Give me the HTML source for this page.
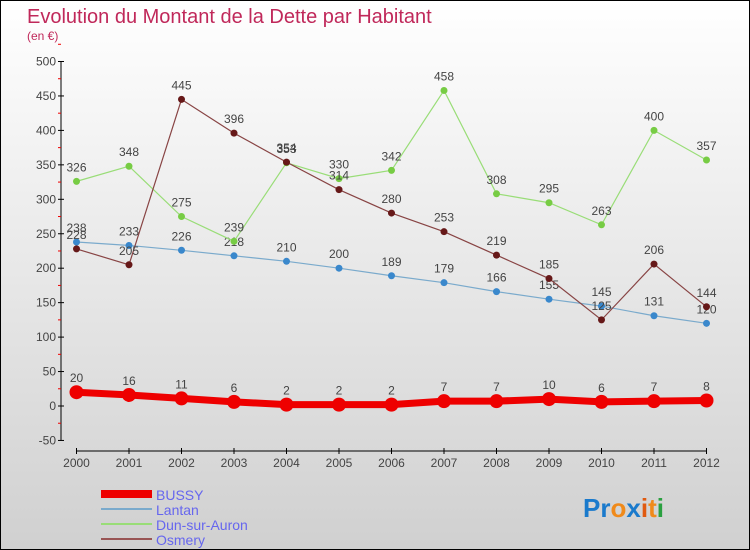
<!DOCTYPE html>
<html><head><meta charset="utf-8"><style>
body{margin:0}
#c{width:750px;height:550px;position:relative;box-sizing:border-box;border:1px solid #000;background:linear-gradient(#fff,#d0d0d0);font-family:"Liberation Sans",sans-serif;overflow:hidden}
</style></head><body>
<div id="c">
<svg id="s" width="750" height="550" xmlns="http://www.w3.org/2000/svg">
<text x="26" y="22" font-size="20" fill="#c0285a">Evolution du Montant de la Dette par Habitant</text>
<text x="26" y="39" font-size="12" fill="#c0285a">(en €)</text>
<g id="axes"></g><g id="series"></g>
<g>
<rect x="100" y="489" width="51" height="8" fill="#e00"/>
<text x="155" y="499" font-size="14" fill="#6666ee">BUSSY</text>
<rect x="100" y="507" width="51" height="2" fill="#7aaacc"/>
<text x="155" y="514" font-size="14" fill="#6666ee">Lantan</text>
<rect x="100" y="522" width="51" height="2" fill="#99dd77"/>
<text x="155" y="529" font-size="14" fill="#6666ee">Dun-sur-Auron</text>
<rect x="100" y="537" width="51" height="2" fill="#995555"/>
<text x="155" y="544" font-size="14" fill="#6666ee">Osmery</text>
</g>
<g font-size="26" font-weight="bold">
<text x="582" y="516"><tspan fill="#1a7acc">Pr</tspan><tspan fill="#f08a1a">o</tspan><tspan fill="#1a7acc">x</tspan><tspan fill="#e05a10">i</tspan><tspan fill="#f08a1a">t</tspan><tspan fill="#2aa040">i</tspan></text>
</g>
</svg>
</div>
<script>
const years=[2000,2001,2002,2003,2004,2005,2006,2007,2008,2009,2010,2011,2012];
const bussy=[20,16,11,6,2,2,2,7,7,10,6,7,8];
const lantan=[238,233,226,218,210,200,189,179,166,155,145,131,120];
const dun=[326,348,275,239,353,330,342,458,308,295,263,400,357];
const osmery=[228,205,445,396,354,314,280,253,219,185,125,206,144];
const yTicks=[-50,0,50,100,150,200,250,300,350,400,450,500];
const NS="http://www.w3.org/2000/svg";
const X=i=>75.5+i*52.5;
const Y=v=>405-v*0.689;
const ax=document.getElementById('axes'),se=document.getElementById('series');
function mk(p,t,a){const e=document.createElementNS(NS,t);for(const k in a)e.setAttribute(k,a[k]);p.appendChild(e);return e;}
const yl=mk(ax,'line',{x1:60,y1:Y(500),x2:60,y2:Y(-50),stroke:'#000'});


yTicks.forEach(v=>{
 mk(ax,'line',{x1:57,x2:63,y1:Y(v),y2:Y(v),stroke:'#000'});
 mk(ax,'line',{x1:57,x2:60,y1:Y(v+25),y2:Y(v+25),stroke:'#e00'});
 const t=mk(ax,'text',{x:55,y:Y(v)+4,'font-size':12,fill:'#444','text-anchor':'end'});
 t.textContent=v;
 
 
});
const xl=mk(ax,'line',{x1:75,y1:450,x2:706,y2:450,stroke:'#000'});


years.forEach((y,i)=>{
 mk(ax,'line',{x1:X(i),x2:X(i),y1:447,y2:453,stroke:'#000'});
 const t=mk(ax,'text',{x:X(i),y:466,'font-size':12,fill:'#444','text-anchor':'middle'});
 t.textContent=y;
 
 
});
function series(name,vals,color,dot,w,r){
 const g=mk(se,'g',{});
 
 
 const l=mk(g,'polyline',{points:vals.map((v,i)=>X(i)+','+Y(v)).join(' '),fill:'none',stroke:color,'stroke-width':w});
 
 
 vals.forEach((v,i)=>{
  const c=mk(g,'circle',{cx:X(i),cy:Y(v),r:r,fill:dot});
  
  
  const t=mk(g,'text',{x:X(i),y:Y(v)-10,'font-size':12,fill:'#444','text-anchor':'middle'});
  t.textContent=v;
  
  
 });
}
series('lantan',lantan,'#7aaacc','#3a88cc',1.2,3.5);
series('dun',dun,'#99dd77','#77cc44',1.2,3.5);
series('osmery',osmery,'#884444','#661818',1.2,3.5);
series('bussy',bussy,'#ee0000','#ee0000',7,7);
</script>
</body></html>
